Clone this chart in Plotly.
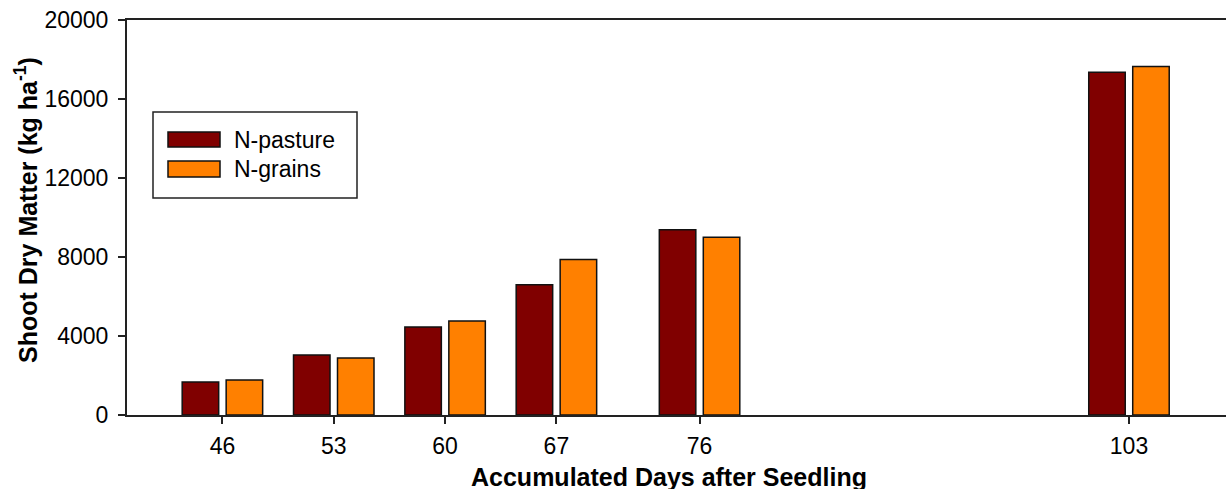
import plotly.graph_objects as go

days = [46, 53, 60, 67, 76, 103]
series_names = ["N-pasture", "N-grains"]
n_pasture = [1670, 3040, 4460, 6590, 9380, 17350]
n_grains = [1770, 2890, 4760, 7870, 9000, 17640]
y_ticks = [0, 4000, 8000, 12000, 16000, 20000]
colors = ["#800000", "#FF8000"]

FONT = "Liberation Sans, Arial, sans-serif"

fig = go.Figure()
for name, vals, col in zip(series_names, [n_pasture, n_grains], colors):
    fig.add_trace(go.Bar(x=days, y=vals, name=name, marker=dict(color=col, line=dict(color="#111111", width=1.5)),
                         showlegend=False))

W, H = 1226, 489
L, R, T, B = 127, 0, 20, 74

fig.update_layout(
    width=W, height=H,
    margin=dict(l=L, r=R, t=T, b=B),
    paper_bgcolor="white", plot_bgcolor="white",
    barmode="group", bargap=0.21, bargroupgap=0.17,
    font=dict(family=FONT, size=23, color="black"),
)
fig.update_xaxes(
    range=[40.0, 109.1], tickmode="array", tickvals=days, ticktext=[str(d) for d in days],
    showline=True, linecolor="#222222", linewidth=2, mirror=True,
    ticks="outside", ticklen=7, tickwidth=1.5, tickcolor="#222222",
    showgrid=False, zeroline=False, tickfont=dict(size=23), ticklabelstandoff=2,
)
fig.update_yaxes(
    range=[0, 20000], tickmode="array", tickvals=y_ticks, ticktext=[str(v) for v in y_ticks],
    showline=True, linecolor="#222222", linewidth=2,
    ticks="outside", ticklen=7, tickwidth=1.5, tickcolor="#222222",
    showgrid=False, zeroline=False, tickfont=dict(size=23), ticklabelstandoff=5,
)

pw, ph = W - L - R, H - T - B
def px(x):
    return (x - L) / pw
def py(y):
    return 1 - (y - T) / ph

# y-axis title
fig.add_annotation(text="<b>Shoot Dry Matter (kg ha<sup>-1</sup>)</b>", xref="paper", yref="paper",
                   x=px(26), y=py(210), textangle=-90, showarrow=False, font=dict(size=25),
                   xanchor="center", yanchor="middle")

# x-axis title
fig.add_annotation(text="<b>Accumulated Days after Seedling</b>", xref="paper", yref="paper",
                   x=px(669), y=py(477), showarrow=False, font=dict(size=25),
                   xanchor="center", yanchor="middle")

# legend box
fig.add_shape(type="rect", xref="paper", yref="paper", x0=px(153), x1=px(357), y0=py(198), y1=py(112),
              line=dict(color="#222222", width=1.5), fillcolor="white", layer="above")
sw_y = [(132, 147), (161, 177)]
for (y0, y1), col, name in zip(sw_y, colors, series_names):
    fig.add_shape(type="rect", xref="paper", yref="paper", x0=px(168), x1=px(220), y0=py(y1), y1=py(y0),
                  line=dict(color="#111111", width=1.5), fillcolor=col, layer="above")
    fig.add_annotation(text=name, xref="paper", yref="paper", x=px(232), y=py((y0 + y1) / 2),
                       xanchor="left", yanchor="middle", showarrow=False, font=dict(size=23))

fig.write_html("out.html", config={"displayModeBar": False},
               post_script="document.body.style.margin='0';document.body.style.overflow='hidden';")
